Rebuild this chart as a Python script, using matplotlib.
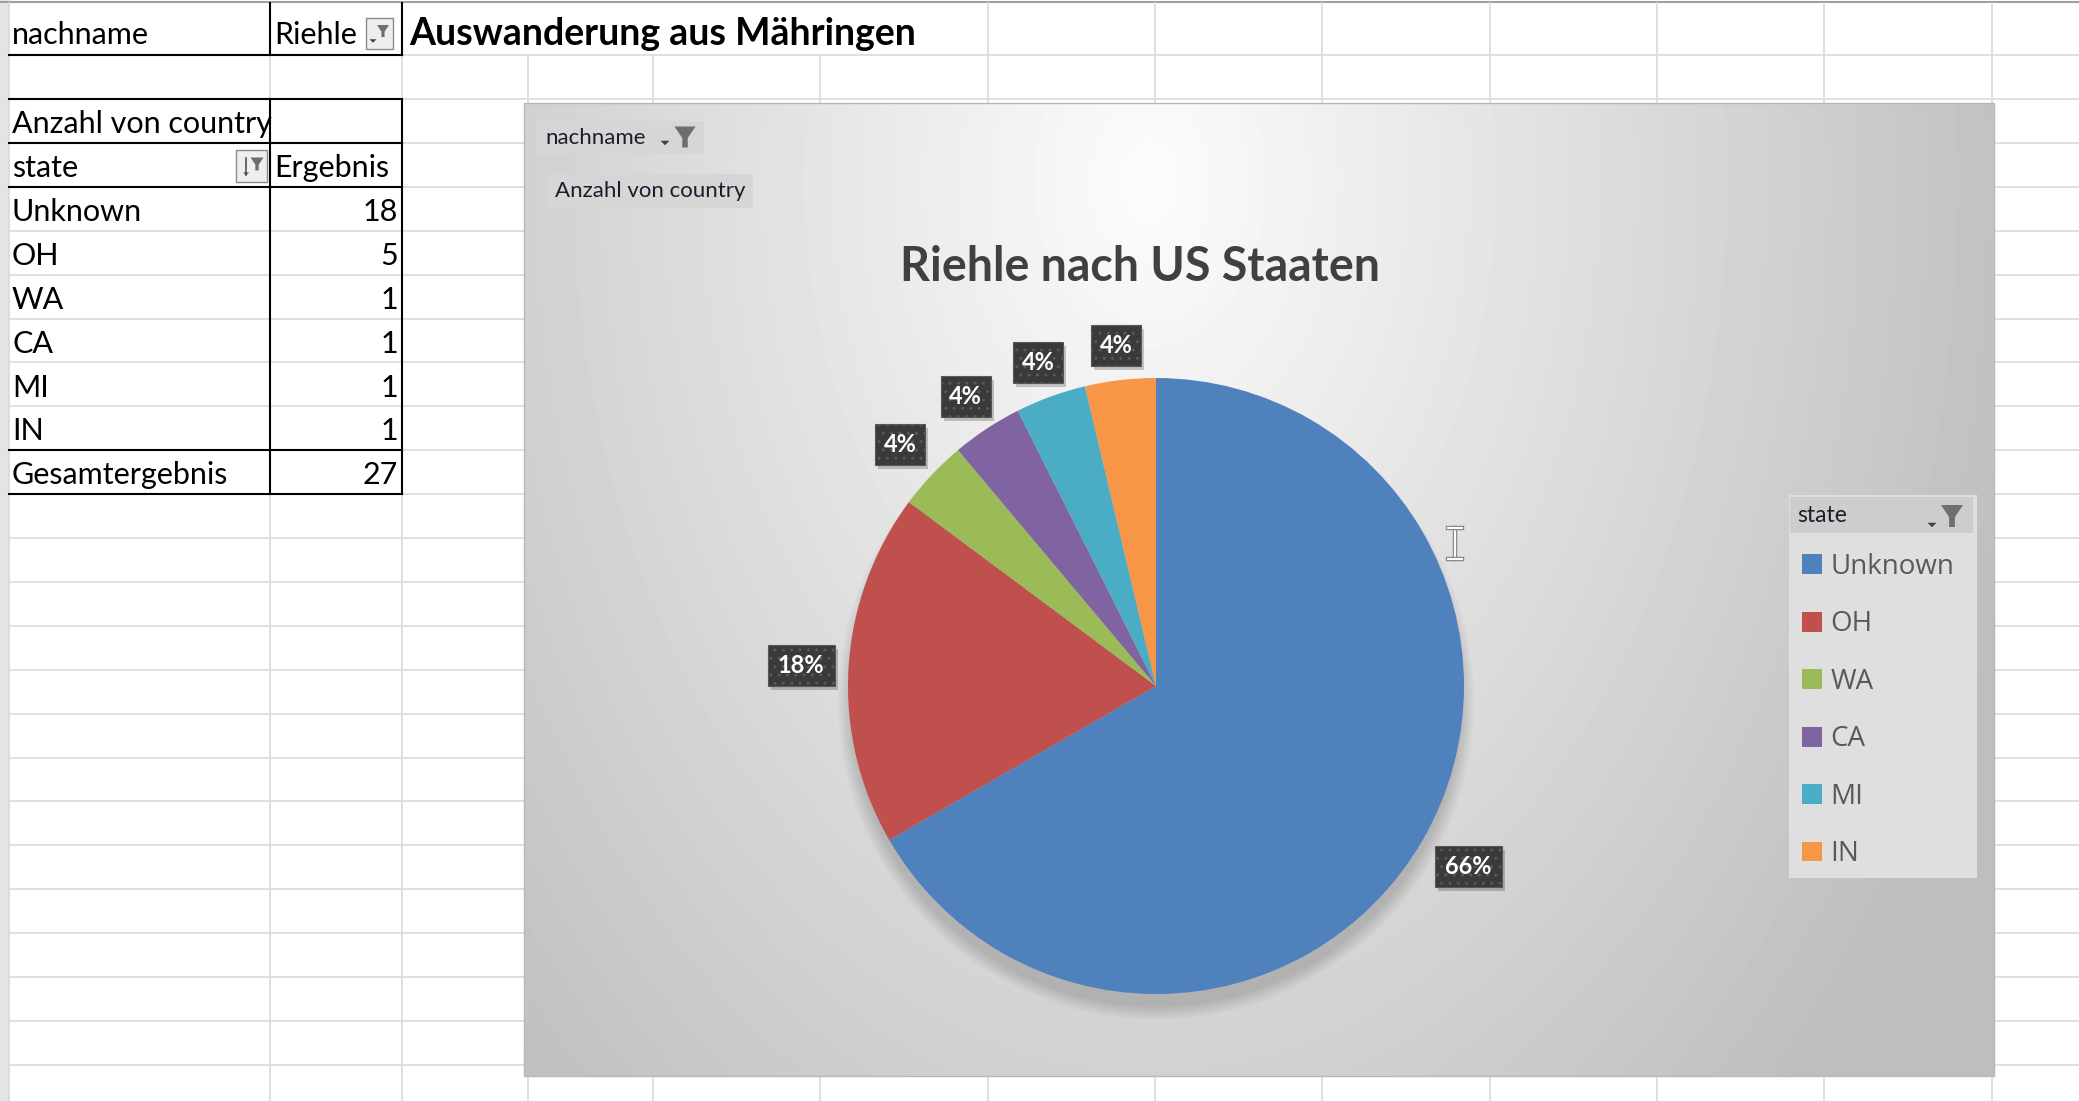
import matplotlib
matplotlib.use("Agg")
import matplotlib.pyplot as plt
import matplotlib.patches as mpatches
import matplotlib.patheffects as pe
import matplotlib.transforms as mtransforms
import numpy as np

# pivot table / chart data
states = ["Unknown", "OH", "WA", "CA", "MI", "IN"]
counts = [18, 5, 1, 1, 1, 1]
pct_labels = ["66%", "18%", "4%", "4%", "4%", "4%"]
colors = ["#4F81BD", "#C0504D", "#9BBB59", "#8064A2", "#4BACC6", "#F79646"]
filter_field = "nachname"
filter_value = "Riehle"
value_field = "Anzahl von country"
row_field = "state"
result_header = "Ergebnis"
total_label = "Gesamtergebnis"
sheet_title = "Auswanderung aus Mähringen"
chart_title = "Riehle nach US Staaten"

W, H = 2079, 1101
CELL_FONT = "Lato"
LEG_FONT = "Open Sans"

fig = plt.figure(figsize=(W / 100, H / 100), dpi=100)
ax = fig.add_axes([0, 0, 1, 1])


# ---- small helpers for the excel chrome ----
def funnel(cx, cy, s, color="#6e6e6e", z=8):
    pts = [(cx - s / 2, cy - s / 2), (cx + s / 2, cy - s / 2), (cx + s * 0.13, cy + s * 0.05),
           (cx + s * 0.13, cy + s / 2), (cx - s * 0.13, cy + s / 2), (cx - s * 0.13, cy + s * 0.05)]
    ax.add_patch(mpatches.Polygon(pts, closed=True, color=color, zorder=z, lw=0))


def drop_arrow(cx, cy, s, color="#404040", z=8):
    pts = [(cx - s / 2, cy - s / 4), (cx + s / 2, cy - s / 4), (cx, cy + s / 4)]
    ax.add_patch(mpatches.Polygon(pts, closed=True, color=color, zorder=z, lw=0))


def cell(x, y, s, ha="left", size=22, weight="normal"):
    ax.text(x, y, s, ha=ha, va="baseline", fontsize=size, fontweight=weight,
            family=CELL_FONT, color="black", zorder=4)


# ---- spreadsheet grid ----
col_x = [9, 270, 402, 528, 653, 820, 988, 1155, 1322, 1490, 1657, 1824, 1992]
row_y = [55] + [99 + 43.9 * i for i in range(23)]
ax.add_patch(mpatches.Rectangle((0, 0), 8, H, color="#e4e4e4", zorder=0))
ax.plot([0, W], [2, 2], color="#a0a0a0", lw=1.5, zorder=1)
for y in row_y:
    ax.plot([9, W], [y, y], color="#dadada", lw=1.2, zorder=1)
for x in col_x:
    y0 = 3 if (x < 420 or x > 950) else 55
    ax.plot([x, x], [y0, H], color="#dadada", lw=1.2, zorder=1)

# pivot table borders
for y in [55, 99, 143, 187, 450, 494]:
    ax.plot([9, 402], [y, y], color="black", lw=1.5, zorder=3)
for x in [270, 402]:
    ax.plot([x, x], [3, 55], color="black", lw=1.5, zorder=3)
    ax.plot([x, x], [99, 494], color="black", lw=1.5, zorder=3)

# pivot table text
cell(12, 44, filter_field)
cell(274, 44, filter_value)
cell(409, 45, sheet_title, size=27, weight="bold")
cell(12, 133, value_field)
cell(12, 177, row_field)
cell(274, 177, result_header)
for i, (s, c) in enumerate(zip(states, counts)):
    y = 221 + 43.9 * i
    cell(12, y, s)
    cell(398, y, str(c), ha="right")
cell(12, 484, total_label)
cell(398, 484, str(sum(counts)), ha="right")

# filter buttons in the cells
ax.add_patch(mpatches.Rectangle((366, 18), 27, 31, fc="#eeeeee", ec="#8c8c8c", lw=1, zorder=5))
funnel(383, 31, 12)
drop_arrow(373, 41, 7)
ax.add_patch(mpatches.Rectangle((236, 150), 31, 32, fc="#eeeeee", ec="#8c8c8c", lw=1, zorder=5))
ax.plot([246, 246], [158, 175], color="#505050", lw=1.2, zorder=8)
drop_arrow(246, 174, 6, "#505050")
funnel(257, 164, 13)

# ---- chart area background (radial gradient) ----
cx0, cy0, cx1, cy1 = 524, 103, 1994, 1076
gx = np.linspace(cx0, cx1, 400)
gy = np.linspace(cy0, cy1, 260)
X, Y = np.meshgrid(gx, gy)
d = np.sqrt(((X - 1150) / 900) ** 2 + ((Y - 180) / 1300) ** 2)
shade = 252 - 62 * np.clip(d, 0, 1)
ax.imshow(shade, cmap="gray", vmin=0, vmax=255, extent=(cx0, cx1, cy1, cy0),
          interpolation="bilinear", aspect="auto", zorder=5)
ax.add_patch(mpatches.Rectangle((cx0, cy0), cx1 - cx0, cy1 - cy0, fill=False,
                                ec="#b8b8b8", lw=1, zorder=6))

# pivot field buttons on the chart
ax.add_patch(mpatches.Rectangle((537, 121), 167, 33, fc="#d6d6d6", lw=0, zorder=7))
ax.text(545, 138, filter_field, va="center", fontsize=16, family=CELL_FONT,
        color="#1c1c2c", zorder=8)
drop_arrow(665, 143, 9)
funnel(685, 137, 21)
ax.add_patch(mpatches.Rectangle((548, 174), 205, 34, fc="#d6d6d6", lw=0, zorder=7))
ax.text(555, 191, value_field, va="center", fontsize=16, family=CELL_FONT,
        color="#1c1c2c", zorder=8)

# chart title
ax.text(1140, 267, chart_title, ha="center", va="center", fontsize=33.5, fontweight="bold",
        family=CELL_FONT, color="#404040", zorder=8)

# legend panel and its field header
ax.add_patch(mpatches.Rectangle((1789, 495), 188, 383, fc="#dfdfdf", lw=0, zorder=7))
ax.add_patch(mpatches.Rectangle((1790, 497), 183, 36, fc="#cdcdcd", lw=0, zorder=7))
ax.text(1797, 516, row_field, va="center", fontsize=16.5, family=CELL_FONT,
        color="#1c1c2c", zorder=8)
drop_arrow(1932, 525, 9)
funnel(1952, 516, 22)

# text cursor (I-beam) left in the screenshot
ibeam = [pe.Stroke(linewidth=3.2, foreground="#8a8a8a"), pe.Normal()]
for xs, ys in [([1455, 1455], [528, 559]), ([1448, 1462], [528, 528]), ([1448, 1462], [559, 559])]:
    ax.plot(xs, ys, color="white", lw=1.4, zorder=20, path_effects=ibeam)

ax.set_xlim(0, W)
ax.set_ylim(H, 0)
ax.axis("off")

# ---- pie ----
R = 308            # pie radius in pixels
PCX, PCY = 1156, 686
L = 1.35
pax = fig.add_axes([(PCX - L * R) / W, (H - PCY - L * R) / H, 2 * L * R / W, 2 * L * R / H])
pax.patch.set_visible(False)
for i in range(12):
    pax.add_patch(mpatches.Circle((0, -0.05), 0.99 + 0.004 * i, color="black",
                                  alpha=0.013, lw=0, zorder=0))
wedges, _ = pax.pie(counts, colors=colors, startangle=90, counterclock=False, radius=1,
                    wedgeprops=dict(linewidth=0, zorder=2))
pax.set_xlim(-L, L)
pax.set_ylim(-L, L)
pax.axis("off")

# data labels: dark boxes "outside end"
for w, lab in zip(wedges, pct_labels):
    ang = np.deg2rad((w.theta1 + w.theta2) / 2)
    ux, uy = np.cos(ang), np.sin(ang)
    bw, bh = 16 + 17 * len(lab), 41
    ext = min(bw / 2 / max(abs(ux), 1e-6), bh / 2 / max(abs(uy), 1e-6))
    dist = 1 + (14 + ext) / R
    px, py = dist * ux, dist * uy
    xd, yd = pax.transData.transform((px, py))
    for dx, dy, fc, ec, a, z in [(3, -4, "black", "none", 0.2, 9),
                                 (0, 0, "#3a3a3a", "#585858", 1.0, 10)]:
        tr = mtransforms.Affine2D().translate(xd + dx, yd + dy)
        pax.add_patch(mpatches.Rectangle((-bw / 2, -bh / 2), bw, bh, transform=tr,
                                         fc=fc, ec=ec, lw=0.8, alpha=a, zorder=z,
                                         clip_on=False, hatch=".." if z == 10 else None))
    pax.text(px, py, lab, ha="center", va="center", fontsize=17, fontweight="bold",
             family=CELL_FONT, color="white", zorder=11)

# legend entries use the pie wedges as handles
leg = pax.legend(wedges, states, loc="upper left",
                 bbox_to_anchor=(1802 / W, 1 - 553 / H), bbox_transform=fig.transFigure,
                 frameon=False, borderpad=0, borderaxespad=0,
                 handlelength=0.72, handleheight=0.72, handletextpad=0.3,
                 labelspacing=1.06, labelcolor="#595959", prop={"family": LEG_FONT, "size": 20})

fig.savefig("out.png", dpi=100)
